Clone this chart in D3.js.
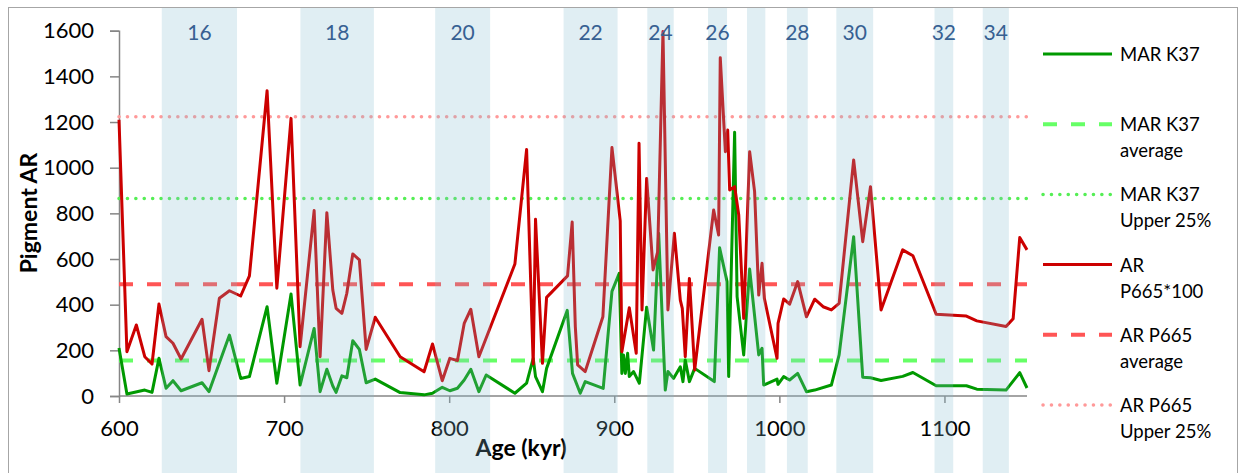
<!DOCTYPE html>
<html>
<head>
<meta charset="utf-8">
<script src="https://cdnjs.cloudflare.com/ajax/libs/d3/7.8.5/d3.min.js"></script>
<style>
  body { margin: 0; background: #fff; }
  svg { display: block; font-family: Lato, "Open Sans", sans-serif; }
</style>
</head>
<body>
<div id="chart"></div>
<script>
var width = 1240;
var height = 473;

// MAR K37 series
var ageK37 = [600, 604.8, 615.6, 620, 624.2, 628.5, 632.7, 637.6, 650.3, 654.5, 666.9, 673.7, 679, 689.7, 695.6,
  704.2, 709.7, 718.2, 721.8, 725.9, 729.5, 731.5, 735, 738, 741.6, 745.6, 749.7, 755.2, 770.3, 784.8, 789.9,
  795.8, 800.4, 805, 809.1, 813.1, 818, 822.4, 839.8, 846.9, 850.9, 852.3, 856.5, 859, 871.5, 874.7, 879.4,
  882.4, 893.3, 898.6, 903, 904.6, 905.6, 906.7, 908.1, 909.1, 911.7, 915.2, 919.6, 923.8, 926.9, 930.9, 932.5,
  935.9, 940, 941.6, 943, 945.5, 948.7, 960.6, 963.8, 968.3, 969.3, 972.9, 974.4, 978.4, 982, 987.5, 989.5,
  990.5, 998.6, 999.2, 1002.6, 1006.2, 1011.1, 1016.4, 1021.4, 1031.5, 1036.2, 1045, 1050.5, 1055.2, 1061.6,
  1074.7, 1080.9, 1095, 1113.3, 1119.6, 1137.3, 1145.6, 1150];
var marK37 = [210, 9, 26, 16, 165, 34, 67, 23, 58, 19, 267, 77, 85, 391, 56,
  447, 48, 296, 19, 117, 44, 16, 88, 80, 242, 204, 58, 74, 15, 5, 12,
  38, 23, 34, 70, 117, 19, 92, 12, 56, 165, 85, 19, 121, 375, 99, 12,
  63, 33, 458, 537, 99, 180, 99, 187, 85, 107, 56, 389, 201, 713, 26, 107,
  77, 128, 63, 158, 63, 121, 63, 649, 501, 85, 1155, 435, 180, 556, 180, 209,
  48, 74, 51, 85, 70, 99, 19, 26, 48, 180, 698, 82, 80, 68,
  86, 103, 45, 45, 30, 26, 102, 35];

// AR P665 * 100 series
var ageP665 = [600, 604.8, 610.5, 615.6, 620, 624.2, 628.5, 632.7, 637.6, 650.3, 654.5, 660.8, 666.9, 673.7, 679,
  689.7, 695.6, 704.2, 709.7, 718.2, 721.8, 725.9, 729.5, 731.5, 735, 738, 741.6, 745.6, 749.7, 755.2, 770.3,
  784.8, 789.9, 795.8, 800.4, 805, 809.1, 813.1, 818, 839.8, 846.9, 850.9, 852.3, 856.5, 859, 871.7, 874.5,
  876.4, 877.8, 882.4, 893.1, 898.6, 903.6, 904.6, 909.1, 913.3, 915, 916.8, 919.6, 923.5, 926.3, 929.5, 932.5,
  936.4, 940, 941.2, 943, 945.5, 948.7, 960.2, 963.2, 964.2, 967.3, 968.7, 969.9, 972.9, 975.4, 978.4, 982,
  985, 987.5, 989.5, 990.9, 998.6, 999.2, 1002.6, 1006.2, 1011.1, 1016.4, 1021.4, 1026.5, 1031.5, 1036.2, 1045,
  1050.5, 1055.2, 1061.6, 1074.7, 1080.9, 1095, 1113.3, 1119.6, 1137.3, 1141.6, 1145.6, 1150];
var arP665 = [1210, 194, 311, 172, 140, 403, 260, 231, 162, 336, 111, 428, 461, 438, 526,
  1337, 472, 1216, 216, 812, 172, 803, 464, 384, 362, 450, 622, 596, 204, 345, 172,
  106, 228, 67, 165, 155, 318, 380, 172, 578, 1080, 140, 774, 143, 432, 526, 762,
  304, 136, 107, 347, 1088, 767, 194, 387, 187, 1107, 377, 953, 552, 632, 1596, 377,
  713, 420, 384, 172, 515, 114, 815, 705, 1482, 1070, 1165, 902, 917, 793, 340, 1070,
  895, 442, 581, 428, 165, 318, 425, 402, 501, 347, 424, 391, 377, 406, 1034,
  676, 917, 377, 640, 614, 358, 350, 329, 304, 338, 694, 640];

// reference levels
var marAverage = 156;
var marUpper25 = 865;
var arAverage = 489;
var arUpper25 = 1223;

// glacial stage bands
var bandStart = [625.9, 709.9, 791.5, 869.3, 920, 956.8, 980.4, 1004.6, 1034.5, 1094, 1123.2];
var bandEnd   = [671.5, 754.4, 824.8, 902, 936, 968.3, 991.5, 1017.2, 1056.8, 1105.3, 1139];
var bandLabel = ["16", "18", "20", "22", "24", "26", "", "28", "30", "32", "34"];

var yTicks = [0, 200, 400, 600, 800, 1000, 1200, 1400, 1600];
var xTicks = [600, 700, 800, 900, 1000, 1100];

var legendNames = [["MAR K37"], ["MAR K37", "average"], ["MAR K37", "Upper 25%"],
  ["AR", "P665*100"], ["AR P665", "average"], ["AR P665", "Upper 25%"]];

var svg = d3.select("#chart").append("svg")
  .attr("width", width)
  .attr("height", height);

var x = d3.scaleLinear().domain([600, 1150]).range([119, 1027]);
var y = d3.scaleLinear().domain([0, 1600]).range([396, 30.7]);

// outer frame
svg.append("rect")
  .attr("x", 8.5).attr("y", 7.5)
  .attr("width", 1229).attr("height", 480)
  .attr("fill", "none")
  .attr("stroke", "#a6a6a6")
  .attr("stroke-width", 1);

// axes
var yAxis = svg.append("g")
  .attr("transform", "translate(119,0)")
  .call(d3.axisLeft(y).tickValues(yTicks).tickSize(9).tickPadding(16).tickFormat(d3.format("d")));
var xAxis = svg.append("g")
  .attr("transform", "translate(0,396)")
  .call(d3.axisBottom(x).tickValues(xTicks).tickSize(7).tickPadding(17).tickFormat(d3.format("d")));

[yAxis, xAxis].forEach(function(a) {
  a.selectAll("path, line").attr("stroke", "#868686").attr("stroke-width", 1.5);
  a.selectAll("text").attr("fill", "#000").attr("font-size", 22).attr("font-family", "Lato, sans-serif");
});
xAxis.select(".domain").attr("d", "M119,0H1027");

svg.append("text")
  .attr("transform", "translate(37,213) rotate(-90)")
  .attr("text-anchor", "middle")
  .attr("font-size", 23).attr("font-weight", "bold")
  .text("Pigment AR");

svg.append("text")
  .attr("x", 521).attr("y", 456)
  .attr("text-anchor", "middle")
  .attr("font-size", 23).attr("font-weight", "bold")
  .text("Age (kyr)");

// reference lines
var refs = [
  {v: marAverage, color: "#66ff66", dash: "14 14", cap: "butt", w: 4},
  {v: marUpper25, color: "#55ee55", dash: "0.1 8.3", cap: "round", w: 3.5},
  {v: arAverage, color: "#ff5555", dash: "14 14", cap: "butt", w: 4},
  {v: arUpper25, color: "#ff9999", dash: "0.1 8.3", cap: "round", w: 3.5}
];
svg.selectAll(".ref")
  .data(refs)
  .enter()
  .append("line")
  .attr("class", "ref")
  .attr("x1", x(600)).attr("x2", x(1150))
  .attr("y1", function(d) { return y(d.v); })
  .attr("y2", function(d) { return y(d.v); })
  .attr("stroke", function(d) { return d.color; })
  .attr("stroke-width", function(d) { return d.w; })
  .attr("stroke-dasharray", function(d) { return d.dash; })
  .attr("stroke-linecap", function(d) { return d.cap; });

// data lines
var line = d3.line()
  .x(function(d) { return x(d[0]); })
  .y(function(d) { return y(d[1]); });

svg.append("path")
  .datum(d3.zip(ageK37, marK37))
  .attr("fill", "none")
  .attr("stroke", "#009900")
  .attr("stroke-width", 3)
  .attr("stroke-linejoin", "round")
  .attr("d", line);

svg.append("path")
  .datum(d3.zip(ageP665, arP665))
  .attr("fill", "none")
  .attr("stroke", "#cc0000")
  .attr("stroke-width", 3)
  .attr("stroke-linejoin", "round")
  .attr("d", line);

// bands over the lines, semi transparent
var bands = d3.range(bandStart.length);
svg.selectAll(".band")
  .data(bands)
  .enter()
  .append("rect")
  .attr("class", "band")
  .attr("x", function(i) { return x(bandStart[i]); })
  .attr("y", 8)
  .attr("width", function(i) { return x(bandEnd[i]) - x(bandStart[i]); })
  .attr("height", height - 8)
  .attr("fill", "rgb(131,187,207)")
  .attr("fill-opacity", 0.25);

svg.selectAll(".bandLabel")
  .data(bands)
  .enter()
  .append("text")
  .attr("class", "bandLabel")
  .attr("x", function(i) { return x((bandStart[i] + bandEnd[i]) / 2); })
  .attr("y", 40)
  .attr("text-anchor", "middle")
  .attr("font-size", 21)
  .attr("fill", "#376092")
  .text(function(i) { return bandLabel[i]; });

// legend
var legendStyle = [
  {color: "#009900", dash: null, cap: "butt", w: 3},
  {color: "#66ff66", dash: "14 14", cap: "butt", w: 4},
  {color: "#55ee55", dash: "0.1 8.3", cap: "round", w: 3.5},
  {color: "#cc0000", dash: null, cap: "butt", w: 3},
  {color: "#ff5555", dash: "14 14", cap: "butt", w: 4},
  {color: "#ff9999", dash: "0.1 8.3", cap: "round", w: 3.5}
];
var legend = svg.selectAll(".legend")
  .data(legendNames)
  .enter()
  .append("g")
  .attr("class", "legend")
  .attr("transform", function(d, i) { return "translate(0," + (54 + i * 70.2) + ")"; });

legend.append("line")
  .attr("x1", 1043).attr("x2", 1112)
  .attr("y1", 0).attr("y2", 0)
  .attr("stroke", function(d, i) { return legendStyle[i].color; })
  .attr("stroke-width", function(d, i) { return legendStyle[i].w; })
  .attr("stroke-dasharray", function(d, i) { return legendStyle[i].dash; })
  .attr("stroke-linecap", function(d, i) { return legendStyle[i].cap; });

legend.append("text")
  .attr("x", 1120)
  .attr("y", 7)
  .attr("font-size", 18.5)
  .selectAll("tspan")
  .data(function(d) { return d; })
  .enter()
  .append("tspan")
  .attr("x", 1120)
  .attr("dy", function(d, i) { return i === 0 ? 0 : 26; })
  .text(function(d) { return d; });
</script>
</body>
</html>
